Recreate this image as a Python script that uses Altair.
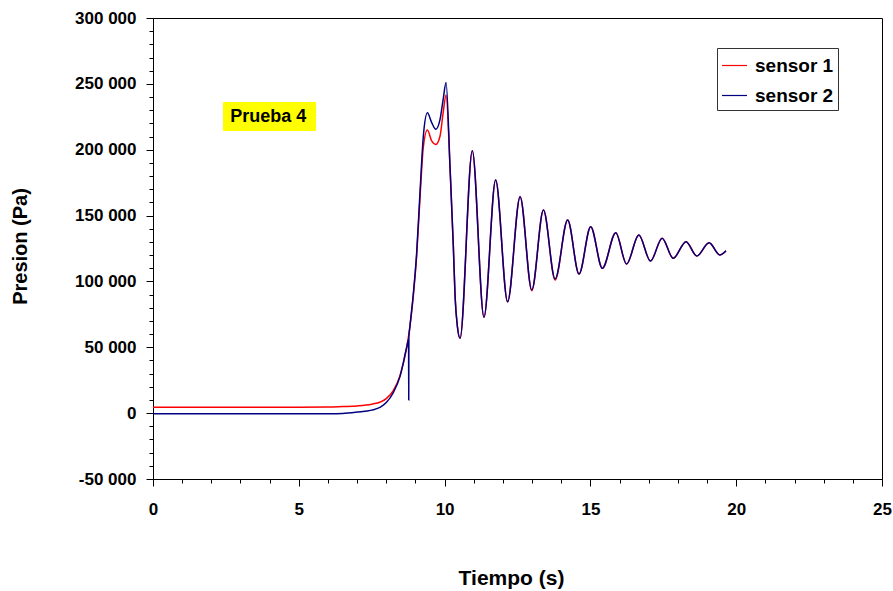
import altair as alt
import pandas as pd

# ---- data ----
time_s1 = [0.0, 1.0, 2.0, 3.0, 4.0, 5.0, 6.0, 6.5, 7.0, 7.5, 7.8, 8.0, 8.24, 8.47, 8.70,
           8.81, 8.93, 9.04, 9.16, 9.27, 9.41, 9.55, 9.70, 9.84, 9.95, 10.05, 10.19, 10.30,
           10.36, 10.44, 10.53, 10.95, 11.35, 11.75, 12.16, 12.59, 12.99, 13.39, 13.79, 14.22,
           14.61, 15.01, 15.41, 15.87, 16.24, 16.66, 17.06, 17.46, 17.84, 18.28, 18.65, 19.07,
           19.44, 19.65]
pres_s1 = [4500, 4500, 4500, 4500, 4500, 4500, 4600, 5000, 5500, 6800, 8500, 11000, 17000,
           28500, 50000, 65600, 90000, 119000, 165000, 202000, 215000, 207000, 204000, 210000,
           228000, 241500, 184600, 126400, 88400, 65600, 56800, 199300, 72800, 177000, 84600,
           164300, 93000, 154200, 101000, 146600, 105600, 141600, 110000, 137000, 113200,
           135300, 115500, 132800, 117600, 130200, 119300, 129400, 120100, 123300]

time_s2 = [0.0, 1.0, 2.0, 3.0, 4.0, 5.0, 6.0, 6.5, 7.0, 7.5, 7.8, 8.0, 8.24, 8.47, 8.70,
           8.765, 8.77, 8.775, 8.81, 8.93, 9.04, 9.16, 9.27, 9.41, 9.55, 9.70, 9.84, 9.95,
           10.05, 10.19, 10.30, 10.36, 10.44, 10.53, 10.95, 11.35, 11.75, 12.16, 12.59, 12.99,
           13.39, 13.79, 14.22, 14.61, 15.01, 15.41, 15.87, 16.24, 16.66, 17.06, 17.46, 17.84,
           18.28, 18.65, 19.07, 19.44, 19.65]
pres_s2 = [-500, -500, -500, -500, -500, -500, -400, -200, 800, 2300, 4500, 8000, 15500,
           27700, 50000, 56000, 10000, 57500, 65600, 91000, 121000, 169000, 210000, 228000,
           221000, 215500, 222600, 238000, 251000, 184600, 126400, 88400, 65600, 56800,
           199300, 72800, 177000, 84600, 164300, 93500, 154200, 101900, 146600, 105600,
           141600, 110000, 137000, 113200, 135300, 115500, 132800, 117600, 130200, 119300,
           129400, 120100, 123300]

series_names = ["sensor 1", "sensor 2"]
series_colors = ["#FF0000", "#000080"]

x_ticks = list(range(0, 26))
y_ticks = [-50000, -40000, -30000, -20000, -10000, 0, 10000, 20000, 30000, 40000, 50000,
           60000, 70000, 80000, 90000, 100000, 110000, 120000, 130000, 140000, 150000,
           160000, 170000, 180000, 190000, 200000, 210000, 220000, 230000, 240000, 250000,
           260000, 270000, 280000, 290000, 300000]

note_text = ["Prueba 4"]
note_box_x = [2.40]
note_box_x2 = [5.59]
note_box_y = [236200]
note_box_y2 = [214200]
note_text_x = [3.95]
note_text_y = [220800]

FONT = "Liberation Sans"

df = pd.concat([
    pd.DataFrame({"t": time_s1, "p": pres_s1, "serie": series_names[0]}),
    pd.DataFrame({"t": time_s2, "p": pres_s2, "serie": series_names[1]}),
], ignore_index=True)

note_df = pd.DataFrame({"label": note_text, "x": note_box_x, "x2": note_box_x2,
                        "y": note_box_y, "y2": note_box_y2,
                        "tx": note_text_x, "ty": note_text_y})

x_scale = alt.Scale(domain=[0, 25], nice=False, zero=False)
y_scale = alt.Scale(domain=[-50000, 300000], nice=False, zero=False)

x_axis = alt.Axis(
    values=x_ticks,
    labelExpr="datum.value % 5 === 0 ? datum.label : ''",
    tickSize=alt.condition("datum.value % 5 === 0", alt.value(7), alt.value(4)),
    grid=False, labelFlush=False, labelOverlap=False, labelBound=False,
    labelFont=FONT, labelFontSize=17, labelFontWeight="bold", labelColor="black",
    labelPadding=15, domainColor="black", tickColor="black",
    title="Tiempo (s)", titleFont=FONT, titleFontSize=21, titleFontWeight="bold",
    titleColor="black", titleX=358, titleY=105, titleBaseline="alphabetic",
    titleAlign="center",
)
y_axis = alt.Axis(
    values=y_ticks,
    labelExpr="datum.value % 50000 === 0 ? replace(replace(format(datum.value, ','), regexp(',', 'g'), ' '), '\u2212', '-') : ''",
    tickSize=alt.condition("datum.value % 50000 === 0", alt.value(7), alt.value(4)),
    grid=False, labelOverlap=False, labelBound=False, labelFlush=False,
    labelFont=FONT, labelFontSize=17, labelFontWeight="bold", labelColor="black",
    labelPadding=10, domainColor="black", tickColor="black",
    title="Presion (Pa)", titleFont=FONT, titleFontSize=20, titleFontWeight="bold",
    titleColor="black", titleX=-127, titleY=228, titleBaseline="alphabetic",
    titleAlign="center", titleAngle=270,
)

box = alt.Chart(note_df).mark_rect(color="#FFFF00").encode(
    x=alt.X("x:Q", scale=x_scale, axis=x_axis), x2="x2:Q",
    y=alt.Y("y:Q", scale=y_scale, axis=y_axis), y2="y2:Q",
)
txt = alt.Chart(note_df).mark_text(font=FONT, fontSize=18, fontWeight="bold",
                                   color="black", baseline="alphabetic",
                                   align="center").encode(
    x=alt.X("tx:Q", scale=x_scale, axis=x_axis),
    y=alt.Y("ty:Q", scale=y_scale, axis=y_axis), text="label:N",
)

lines = alt.Chart(df).mark_line(strokeWidth=1.5, interpolate="monotone").encode(
    x=alt.X("t:Q", scale=x_scale, axis=x_axis),
    y=alt.Y("p:Q", scale=y_scale, axis=y_axis),
    color=alt.Color("serie:N",
                    scale=alt.Scale(domain=series_names, range=series_colors),
                    legend=alt.Legend(
                        orient="none", legendX=564, legendY=30, title=None,
                        symbolType="stroke", symbolSize=625, symbolStrokeWidth=1.2,
                        labelFont=FONT, labelFontSize=19, labelFontWeight="bold",
                        labelColor="black", labelOffset=7,
                        strokeColor="#333333", fillColor="white",
                        padding=4, rowPadding=6)),
    detail="serie:N",
)

chart = alt.layer(box, txt, lines).properties(
    width=729, height=461,
    autosize=alt.AutoSizeParams(type="none"),
    padding={"left": 153, "top": 18, "right": 11, "bottom": 112},
    background="white",
).configure_view(stroke="black", strokeWidth=1)

chart.save("out.html", embed_options={"renderer": "svg", "actions": False})
